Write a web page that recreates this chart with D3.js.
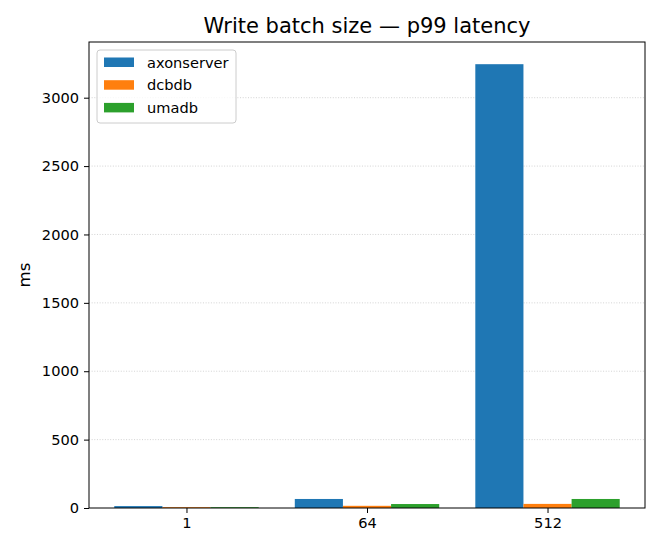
<!DOCTYPE html>
<html>
<head>
<meta charset="utf-8">
<script src="https://cdn.jsdelivr.net/npm/d3@7"></script>
<style>
  body { margin: 0; background: #fff; }
  text { font-family: "DejaVu Sans", sans-serif; }
</style>
</head>
<body>
<div id="chart"></div>
<script>
// batch sizes and p99 latency (ms) per store
let batchSizes = ["1", "64", "512"]
let seriesNames = ["axonserver", "dcbdb", "umadb"]
let axonserver = [14, 66, 3245]
let dcbdb = [6, 16, 30]
let umadb = [6, 29, 66]
let yTicks = [0, 500, 1000, 1500, 2000, 2500, 3000]

let colors = ["#1f77b4", "#ff7f0e", "#2ca02c"]
let series = [axonserver, dcbdb, umadb]

let width = 660
let height = 550
let margin = { left: 89, right: 15, top: 42, bottom: 42 }

let svg = d3.select("#chart").append("svg")
    .attr("width", width)
    .attr("height", height)

// x is numeric like matplotlib: groups at 0,1,2, bar width 0.8/3
let barW = 0.8 / series.length
let x = d3.scaleLinear()
    .domain([-0.4 - 0.14, 2.4 + 0.14])
    .range([margin.left, width - margin.right])

let yMax = d3.max(series.flat()) * 1.05
let y = d3.scaleLinear()
    .domain([0, yMax])
    .range([height - margin.bottom, margin.top])

// grid
svg.append("g")
    .selectAll("line")
    .data(yTicks.slice(1))
    .join("line")
    .attr("x1", margin.left)
    .attr("x2", width - margin.right)
    .attr("y1", d => y(d))
    .attr("y2", d => y(d))
    .attr("stroke", "#b0b0b0")
    .attr("stroke-opacity", 0.7)
    .attr("stroke-width", 0.8)
    .attr("stroke-dasharray", "1,1.65")

// bars
series.forEach((vals, s) => {
    svg.append("g")
        .selectAll("rect")
        .data(vals)
        .join("rect")
        .attr("x", (d, i) => x(i + (s - 1) * barW - barW / 2))
        .attr("width", x(barW) - x(0))
        .attr("y", d => y(d))
        .attr("height", d => y(0) - y(d))
        .attr("fill", colors[s])
})

// axes
let xAxis = d3.axisBottom(x)
    .tickValues(batchSizes.map((d, i) => i))
    .tickFormat(i => batchSizes[i])
    .tickSize(5)
    .tickPadding(5)

let yAxis = d3.axisLeft(y)
    .tickValues(yTicks)
    .tickFormat(d3.format("d"))
    .tickSize(5)
    .tickPadding(5)

let gx = svg.append("g")
    .attr("transform", `translate(0,${height - margin.bottom})`)
    .call(xAxis)
let gy = svg.append("g")
    .attr("transform", `translate(${margin.left},0)`)
    .call(yAxis)

;[gx, gy].forEach(g => {
    g.select(".domain").remove()
    g.selectAll("text")
        .attr("font-size", 14.6)
        .attr("font-family", "DejaVu Sans")
        .attr("fill", "#000")
    g.selectAll("line").attr("stroke", "#000").attr("stroke-width", 1)
})

// frame
svg.append("rect")
    .attr("x", margin.left)
    .attr("y", margin.top)
    .attr("width", width - margin.right - margin.left)
    .attr("height", height - margin.bottom - margin.top)
    .attr("fill", "none")
    .attr("stroke", "#000")
    .attr("stroke-width", 1)

// title
svg.append("text")
    .attr("x", (margin.left + width - margin.right) / 2)
    .attr("y", 33)
    .attr("text-anchor", "middle")
    .attr("font-size", 21)
    .text("Write batch size — p99 latency")

// y label
svg.append("text")
    .attr("transform", `translate(30,${(margin.top + height - margin.bottom) / 2}) rotate(-90)`)
    .attr("text-anchor", "middle")
    .attr("font-size", 16.7)
    .text("ms")

// legend
let legend = svg.append("g")
    .attr("transform", `translate(97,50)`)

legend.append("rect")
    .attr("width", 139)
    .attr("height", 73)
    .attr("rx", 3)
    .attr("fill", "#fff")
    .attr("fill-opacity", 0.8)
    .attr("stroke", "#cccccc")

let items = legend.selectAll("g.item")
    .data(seriesNames)
    .join("g")
    .attr("class", "item")
    .attr("transform", (d, i) => `translate(7,${7.5 + i * 22.7})`)

items.append("rect")
    .attr("width", 30)
    .attr("height", 9.5)
    .attr("fill", (d, i) => colors[i])

items.append("text")
    .attr("x", 43)
    .attr("y", 10)
    .attr("font-size", 14.6)
    .text(d => d)
</script>
</body>
</html>
